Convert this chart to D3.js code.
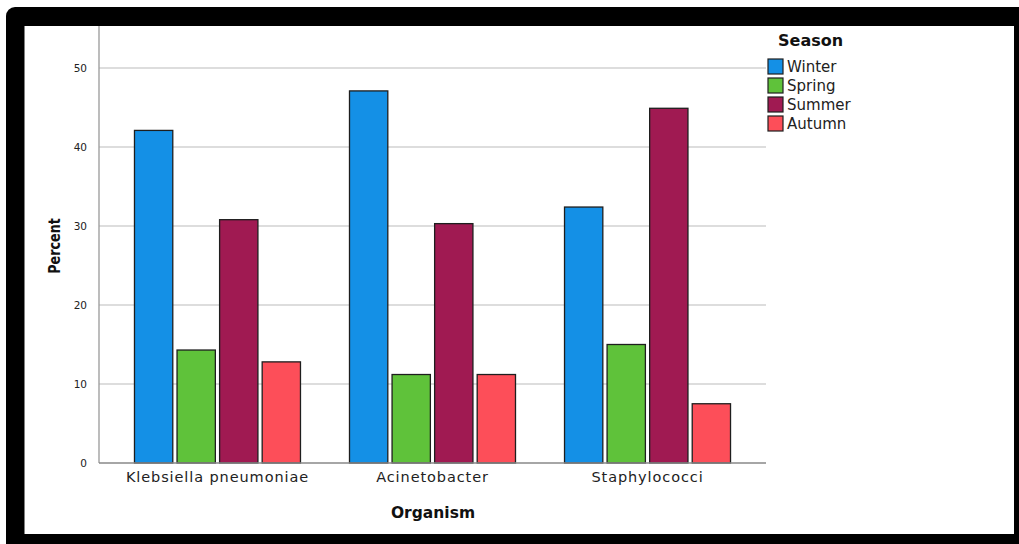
<!DOCTYPE html>
<html>
<head>
<meta charset="utf-8">
<script src="https://cdn.jsdelivr.net/npm/d3@7"></script>
<style>
    body { margin: 0; background: #fff; }
    text { font-family: "DejaVu Sans", sans-serif; }
</style>
</head>
<body>
<script>
// 数据
var organisms = ["Klebsiella pneumoniae", "Acinetobacter", "Staphylococci"];
var seasons = ["Winter", "Spring", "Summer", "Autumn"];
var winter = [42.1, 47.1, 32.4];
var spring = [14.3, 11.2, 15.0];
var summer = [30.8, 30.3, 44.9];
var autumn = [12.8, 11.2, 7.5];
var yTicks = [0, 10, 20, 30, 40, 50];

var seriesValues = [winter, spring, summer, autumn];
var seasonColors = ["#1490e6", "#5fc23a", "#a01a52", "#fd4e59"];

// SVG的宽度和高度
var w = 1019;
var h = 544;

var svg = d3.select("body").append("svg")
    .attr("width", w)
    .attr("height", h);

// 黑色外框
svg.append("rect")
    .attr("x", 6).attr("y", 7)
    .attr("width", w - 6 + 10).attr("height", h - 7 + 10)
    .attr("rx", 9)
    .attr("fill", "#000");
svg.append("rect")
    .attr("x", 24.5).attr("y", 26)
    .attr("width", 1014 - 24.5).attr("height", 534 - 26)
    .attr("fill", "#fff");

// 比例尺
var left = 99, right = 766, bottom = 463;
var y = d3.scaleLinear()
    .domain([0, 55.3])
    .range([bottom, bottom - 55.3 * 7.9]);

var x0 = d3.scaleBand()
    .domain(organisms)
    .range([left, right])
    .paddingOuter(0.051)
    .paddingInner(0);

var clusterW = 166;
var x1 = d3.scaleBand()
    .domain(seasons)
    .range([0, clusterW])
    .paddingInner(0.1);

// 网格线
svg.append("g")
    .selectAll("line")
    .data(yTicks.slice(1))
    .enter()
    .append("line")
    .attr("x1", left).attr("x2", right)
    .attr("y1", function (d) { return y(d); })
    .attr("y2", function (d) { return y(d); })
    .attr("stroke", "#d2d2d2")
    .attr("stroke-width", 1.4);

// 柱子
var groups = svg.append("g")
    .selectAll("g")
    .data(organisms)
    .enter()
    .append("g")
    .attr("transform", function (d) {
        return "translate(" + (x0(d) + x0.bandwidth() / 2 - clusterW / 2) + ",0)";
    });

groups.selectAll("rect")
    .data(function (d, i) {
        return seasons.map(function (s, j) {
            return { season: s, value: seriesValues[j][i], color: seasonColors[j] };
        });
    })
    .enter()
    .append("rect")
    .attr("x", function (d) { return x1(d.season); })
    .attr("y", function (d) { return y(d.value); })
    .attr("width", x1.bandwidth())
    .attr("height", function (d) { return bottom - y(d.value); })
    .attr("fill", function (d) { return d.color; })
    .attr("stroke", "#1e1e1e")
    .attr("stroke-width", 1.3);

// 坐标轴
var yAxis = svg.append("g")
    .attr("transform", "translate(" + left + ",0)")
    .call(d3.axisLeft(y).tickValues(yTicks).tickSize(0).tickPadding(12));
yAxis.select(".domain").remove();
yAxis.selectAll("text")
    .attr("fill", "#222")
    .style("font-family", "'DejaVu Sans', sans-serif")
    .style("font-size", "10.5px");

svg.append("line")
    .attr("x1", left).attr("x2", left)
    .attr("y1", 26).attr("y2", bottom)
    .attr("stroke", "#999").attr("stroke-width", 1.3);
svg.append("line")
    .attr("x1", left).attr("x2", right)
    .attr("y1", bottom).attr("y2", bottom)
    .attr("stroke", "#888").attr("stroke-width", 1.3);

var xAxis = svg.append("g")
    .attr("transform", "translate(0," + bottom + ")")
    .call(d3.axisBottom(x0).tickSize(0).tickPadding(9));
xAxis.select(".domain").remove();
xAxis.selectAll("text")
    .attr("fill", "#222")
    .style("font-family", "'DejaVu Sans', sans-serif")
    .style("font-size", "14.5px")
    .style("letter-spacing", "0.9px");

// 轴标题
svg.append("text")
    .attr("x", 433).attr("y", 518)
    .attr("text-anchor", "middle")
    .attr("font-weight", "bold")
    .attr("font-size", 15.5)
    .attr("fill", "#111")
    .text("Organism");

svg.append("text")
    .attr("transform", "translate(60,246) rotate(-90) scale(0.85,1)")
    .attr("text-anchor", "middle")
    .attr("font-weight", "bold")
    .attr("font-size", 15)
    .attr("fill", "#111")
    .text("Percent");

// 图例
svg.append("text")
    .attr("x", 778).attr("y", 46)
    .attr("font-weight", "bold")
    .attr("font-size", 16)
    .attr("fill", "#111")
    .text("Season");

var legend = svg.append("g")
    .selectAll("g")
    .data(seasons)
    .enter()
    .append("g")
    .attr("transform", function (d, i) {
        return "translate(768," + (59 + i * 19) + ")";
    });
legend.append("rect")
    .attr("width", 15).attr("height", 15)
    .attr("fill", function (d, i) { return seasonColors[i]; })
    .attr("stroke", "#1e1e1e")
    .attr("stroke-width", 1.2);
legend.append("text")
    .attr("x", 19).attr("y", 13)
    .attr("font-size", 15)
    .attr("fill", "#222")
    .text(function (d) { return d; });
</script>
</body>
</html>
